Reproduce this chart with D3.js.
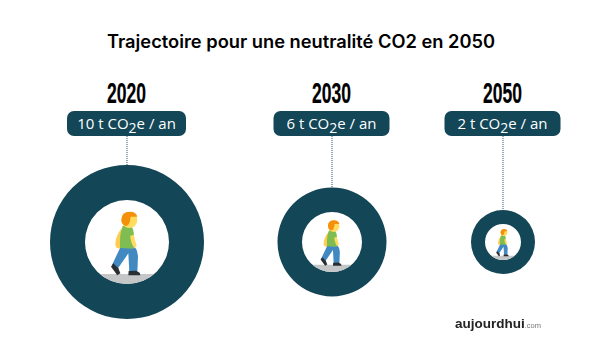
<!DOCTYPE html>
<html>
<head>
<meta charset="utf-8">
<script src="https://cdn.jsdelivr.net/npm/d3@7"></script>
<style>
html,body{margin:0;padding:0;background:#fff;}
svg{display:block;}
</style>
</head>
<body>
<svg id="c" width="600" height="361"></svg>
<script>
const chartTitle = "Trajectoire pour une neutralité CO2 en 2050";
const years = ["2020", "2030", "2050"];
const tonnes = [10, 6, 2];
const labelPrefix = ["10 t CO", "6 t CO", "2 t CO"];
const labelSuffix = "e / an";

const teal = "#134656";
const svg = d3.select("#c");

const xPos = d3.scaleOrdinal().domain(years).range([127, 332, 503]);
const rOuter = d3.scaleLinear().domain([2, 10]).range([32, 77]);
const rInner = d3.scaleLinear().domain([2, 10]).range([18, 42]);
const cy = 242;
const data = years.map((y, i) => ({year: y, t: tonnes[i], prefix: labelPrefix[i]}));

svg.append("text").attr("x", 301).attr("y", 48)
  .attr("text-anchor", "middle")
  .attr("font-family", "Inter, sans-serif")
  .attr("font-weight", 600).attr("font-size", 18)
  .attr("textLength", 388).attr("lengthAdjust", "spacingAndGlyphs")
  .attr("fill", "#000").text(chartTitle);

const defs = svg.append("defs");
defs.append("filter").attr("id", "soft").append("feGaussianBlur").attr("stdDeviation", 0.45);
data.forEach((d, i) => {
  defs.append("clipPath").attr("id", "clip" + i).append("circle")
    .attr("cx", 141).attr("cy", 126).attr("r", 126);
});

const g = svg.selectAll("g.item").data(data).join("g").attr("class", "item");

// dotted connector
g.append("line")
  .attr("x1", d => xPos(d.year)).attr("x2", d => xPos(d.year))
  .attr("y1", 136).attr("y2", d => cy - rOuter(d.t))
  .attr("stroke", "#5f7a85").attr("stroke-width", 1.3).attr("stroke-dasharray", "1 1");

// ring
g.append("path")
  .attr("transform", d => `translate(${xPos(d.year)},${cy})`)
  .attr("fill", teal)
  .attr("d", d => d3.arc().innerRadius(rInner(d.t)).outerRadius(rOuter(d.t)).startAngle(0).endAngle(2 * Math.PI)());

// year heading
g.append("text")
  .attr("x", d => xPos(d.year) - 0.5).attr("y", 103)
  .attr("text-anchor", "middle")
  .attr("font-family", "'Liberation Sans Narrow','Liberation Sans',sans-serif")
  .attr("font-weight", 700).attr("font-size", 29)
  .attr("textLength", 39).attr("lengthAdjust", "spacingAndGlyphs")
  .attr("stroke", "#000").attr("stroke-width", 0.2)
  .attr("fill", "#000").text(d => d.year);

// pill
const pillW = [119, 116, 116];
g.append("rect")
  .attr("x", (d, i) => xPos(d.year) - pillW[i] / 2 - 0.5).attr("y", 111)
  .attr("width", (d, i) => pillW[i]).attr("height", 25).attr("rx", 7)
  .attr("fill", teal);

const lab = g.append("text")
  .attr("x", d => xPos(d.year) - 0.5).attr("y", 129)
  .attr("text-anchor", "middle")
  .attr("font-family", "'Open Sans', sans-serif")
  .attr("font-size", 15).attr("fill", "#fff");
lab.append("tspan").text(d => d.prefix);
lab.append("tspan").attr("font-size", 14).attr("dy", 4).text("2");
lab.append("tspan").attr("dy", -4).text(labelSuffix);

// walker icon, drawn in a 252-unit box and scaled to the inner circle
const walker = g.append("g")
  .attr("transform", d => {
    const s = rInner(d.t) / 126;
    return `translate(${xPos(d.year)},${cy}) scale(${s}) translate(-141,-126)`;
  });
const art = walker.append("g").attr("clip-path", (d, i) => `url(#clip${i})`);
const icon = [
  ["M0,222H282V252H0Z", "#c4c6c7"],
  ["M122,88Q105,115 106,135Q110,148 120,145L130,100Z", "#ffcc4d"],
  ["M122,140L96,195L112,208L145,160L148,216L172,216L174,170Q172,145 160,138Z", "#4289c1"],
  ["M128,78L152,78Q162,85 162,112L160,146L120,144Q118,100 128,78Z", "#7fbd52"],
  ["M150,108L161,104Q165,122 170,138L162,145Q152,128 150,108Z", "#ffdc5d"],
  ["M100,190L93,200L112,226L121,220L115,205Z", "#292f33"],
  ["M146,213L145,226L181,226L179,218L168,212Z", "#292f33"]
];
icon.forEach(([p, c]) => art.append("path").attr("d", p).attr("fill", c));
art.append("circle").attr("cx", 148).attr("cy", 60).attr("r", 24).attr("fill", "#ffdc5d");
art.append("path").attr("d", "M124,60Q124,35 150,35Q168,35 172,50L152,50Q150,78 136,78Q124,72 124,60Z").attr("fill", "#f4900c");

// logo
const logo = svg.append("text").attr("x", 455).attr("y", 328)
  .attr("font-family", "'Liberation Sans', sans-serif").attr("filter", "url(#soft)");
logo.append("tspan").attr("font-size", 13.5).attr("font-weight", 700).attr("fill", "#222").text("aujourdhui");
logo.append("tspan").attr("font-size", 7.5).attr("fill", "#777").text(".com");
</script>
</body>
</html>
